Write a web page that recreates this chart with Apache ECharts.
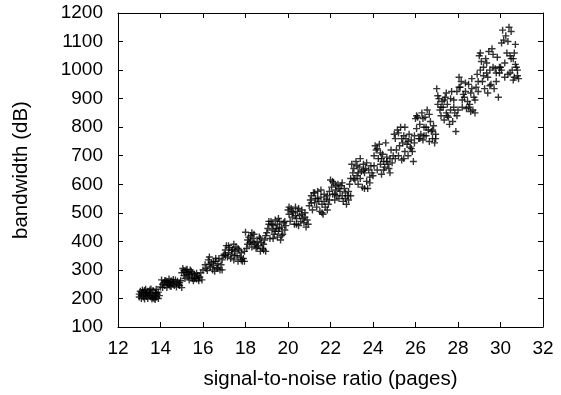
<!DOCTYPE html>
<html><head><meta charset="utf-8">
<script src="https://cdn.jsdelivr.net/npm/echarts@6/dist/echarts.min.js"></script>
<style>html,body{margin:0;padding:0;background:#fff}#c{width:561px;height:395px}</style>
</head><body><div id="c"></div>
<script>
const xTicks = [12,14,16,18,20,22,24,26,28,30,32];
const yTicks = [100,200,300,400,500,600,700,800,900,1000,1100,1200];
const xTitle = 'signal-to-noise ratio (pages)';
const yTitle = 'bandwidth (dB)';
const snr = [
13.0,13.0,13.05,13.1,13.1,13.15,13.2,13.2,13.25,13.3,13.3,13.35,13.4,13.4,13.45,13.5,13.5,13.55,13.6,13.6,13.65,13.7,13.7,13.75,13.8,13.8,13.85,13.9,13.9,
14.0,14.05,14.1,14.15,14.2,14.25,14.3,14.3,14.35,14.4,14.45,14.5,14.5,14.55,14.6,14.65,14.7,14.75,14.8,14.85,14.9,15.0,14.95,
15.0,15.05,15.1,15.1,15.15,15.2,15.25,15.3,15.3,15.35,15.4,15.45,15.5,15.5,15.55,15.6,15.65,15.7,15.75,15.8,15.8,15.9,
16.0,16.1,16.2,16.25,16.3,16.35,16.4,16.45,16.5,16.55,16.6,16.65,16.7,16.75,16.8,16.85,16.9,16.95,
17.0,17.05,17.1,17.15,17.2,17.25,17.3,17.35,17.4,17.45,17.5,17.55,17.6,17.65,17.7,17.75,17.8,17.85,17.9,17.95,
18.0,18.05,18.1,18.15,18.2,18.25,18.3,18.35,18.4,18.45,18.5,18.55,18.6,18.65,18.7,18.75,18.8,18.85,18.9,18.95,
19.0,19.05,19.1,19.15,19.2,19.25,19.3,19.35,19.4,19.45,19.5,19.5,19.55,19.6,19.65,19.7,19.75,19.8,19.85,19.9,
20.0,20.05,20.1,20.15,20.2,20.25,20.3,20.35,20.4,20.45,20.5,20.55,20.6,20.65,20.7,20.75,20.8,20.85,20.9,
21.0,21.05,21.1,21.15,21.2,21.25,21.3,21.35,21.4,21.45,21.5,21.55,21.6,21.65,21.7,21.75,21.8,21.85,21.9,21.95,
22.0,22.05,22.1,22.15,22.2,22.25,22.3,22.35,22.4,22.45,22.5,22.55,22.6,22.65,22.7,22.75,22.8,22.85,22.9,22.95,
23.0,23.05,23.1,23.15,23.2,23.25,23.3,23.35,23.4,23.45,23.5,23.55,23.6,23.65,23.7,23.75,23.8,23.85,23.9,23.95,
24.0,24.05,24.1,24.15,24.2,24.25,24.3,24.35,24.4,24.45,24.5,24.55,24.6,24.65,24.7,24.75,24.8,24.85,24.9,
25.0,25.05,25.1,25.15,25.2,25.25,25.3,25.35,25.4,25.45,25.5,25.55,25.6,25.65,25.7,25.75,25.8,25.85,25.9,25.95,
26.0,26.05,26.1,26.15,26.2,26.25,26.3,26.35,26.4,26.45,26.5,26.55,26.6,26.65,26.7,26.75,26.8,26.85,26.9,26.95,
27.0,27.05,27.1,27.15,27.2,27.25,27.3,27.35,27.4,27.45,27.5,27.55,27.6,27.65,27.7,27.75,27.8,27.85,27.9,27.95,
28.0,28.05,28.1,28.15,28.2,28.25,28.3,28.35,28.4,28.45,28.5,28.55,28.6,28.65,28.7,28.75,28.8,28.85,28.9,28.95,
29.0,29.05,29.1,29.15,29.2,29.25,29.3,29.35,29.4,29.45,29.5,29.55,29.6,29.65,29.7,29.75,29.8,29.85,29.9,29.95,
30.0,30.05,30.1,30.15,30.2,30.25,30.3,30.35,30.4,30.45,30.5,30.55,30.6,30.65,30.7,30.75,30.8,30.85,30.6
];
const bandwidth = [
205,215,225,200,210,230,220,205,198,215,232,208,225,200,212,220,230,205,198,215,228,210,200,220,232,205,215,200,222,
240,265,250,255,245,262,238,258,248,268,255,242,262,250,258,245,265,252,260,248,255,238,262,
290,305,280,298,270,300,285,292,275,265,300,282,270,290,262,285,275,268,280,272,262,290,
300,318,298,335,345,310,325,300,315,295,330,308,322,340,300,318,335,350,
355,370,385,345,360,378,340,355,372,335,365,380,350,330,370,345,360,330,340,365,
432,375,405,415,395,420,380,410,425,390,375,400,385,415,365,395,375,370,405,420,
430,445,460,410,470,440,455,425,475,445,460,415,435,470,405,450,425,465,440,455,
510,495,470,515,485,500,460,520,480,505,455,490,470,510,480,465,500,450,475,
525,545,560,510,570,535,550,520,575,540,505,555,530,495,565,520,548,510,530,575,
615,590,565,605,545,580,560,600,550,575,595,560,540,585,570,530,560,545,600,620,
670,640,655,615,680,630,600,660,620,645,590,670,640,655,610,585,650,625,665,640,
630,700,735,720,650,690,740,670,635,705,680,660,745,695,670,655,690,720,675,
775,760,720,790,700,735,800,685,745,770,715,760,740,700,775,730,755,715,680,745,
830,795,835,760,810,775,850,755,800,835,770,860,790,750,820,785,760,805,745,775,
935,880,900,860,840,890,870,825,905,850,880,835,810,860,925,820,895,850,785,925,
860,975,940,960,870,915,905,955,865,890,950,880,920,970,860,905,850,940,985,925,
1050,1000,1030,960,1010,935,1040,990,920,1065,1000,950,1075,1010,935,1005,960,1045,905,990,
1010,1095,1140,1105,975,1120,1060,985,1150,1050,1135,1000,1040,975,1090,1010,1000,970,965
];
const snrExtra = [
13.1,13.2,13.35,13.5,13.65,13.8,13.95,13.25,13.55,13.75,
14.1,14.2,14.35,14.45,14.6,14.75,14.9,14.4,
15.15,15.25,15.35,15.45,15.6,15.7,15.85,15.95,
16.15,16.3,16.5,16.7,16.9,16.6,
17.05,17.2,17.35,17.5,17.65,17.8,17.45,17.95,
18.1,18.25,18.4,18.55,18.7,18.85,18.95,18.3,
19.1,19.25,19.4,19.55,19.7,19.85,19.3,19.6,
20.05,20.2,20.35,20.5,20.65,20.8,20.95,20.4,
21.1,21.25,21.4,21.55,21.7,21.85,21.6,21.95,
22.1,22.25,22.4,22.55,22.7,22.85,22.95,22.2,
23.1,23.25,23.4,23.55,23.7,23.85,23.3,23.6,
24.05,24.2,24.35,24.5,24.65,24.8,24.95,24.4,
25.05,25.2,25.35,25.5,25.65,25.8,25.95,25.45,
26.05,26.2,26.35,26.5,26.65,26.8,26.95,26.4,
27.05,27.2,27.35,27.5,27.65,27.8,27.95,27.45,
28.05,28.2,28.35,28.5,28.65,28.8,28.95,28.6,
29.05,29.2,29.35,29.5,29.65,29.8,29.95,29.4,
30.05,30.2,30.35,30.5,30.65,30.8,30.45,30.7
];
const bandwidthExtra = [
220,212,218,210,203,218,210,228,233,196,
238,262,258,244,266,240,245,250,
292,302,285,295,270,288,275,265,
305,320,330,305,300,340,
350,385,368,350,375,335,390,330,
390,400,395,380,410,390,365,430,
470,460,435,480,420,470,410,445,
520,505,490,515,495,485,460,460,
535,570,550,580,540,560,500,545,
610,595,585,605,550,575,560,565,
620,665,690,650,675,605,640,585,
665,725,710,650,680,640,700,690,
690,780,760,800,750,725,770,690,
840,760,830,800,845,790,760,770,
910,870,895,840,900,870,840,920,
940,895,925,870,935,895,960,855,
1060,980,1025,945,1055,990,1010,975,
1000,1025,1100,1040,1060,980,990,1020
];
const pts = snr.map((x, i) => [x, bandwidth[i]])
  .concat(snrExtra.map((x, i) => [x, bandwidthExtra[i]]));
const font = 'Liberation Sans, Arial, sans-serif';
const chart = echarts.init(document.getElementById('c'), null, {renderer: 'canvas'});
const axisCommon = {
  axisLine: {show: true, lineStyle: {color: '#000', width: 1}},
  axisTick: {show: true, inside: true, length: 5, lineStyle: {color: '#000'}},
  splitLine: {show: false}
};
chart.setOption({
  animation: false,
  grid: {left: 118, right: 18, top: 13, bottom: 67},
  xAxis: [
    Object.assign({type: 'value', min: 12, max: 32, interval: 2, position: 'bottom',
      name: xTitle, nameLocation: 'middle', nameGap: 42,
      nameTextStyle: {fontFamily: font, fontSize: 20.5, color: '#000'},
      axisLabel: {fontFamily: font, fontSize: 19, color: '#000', margin: 12, formatter: v => String(v)}}, axisCommon),
    Object.assign({type: 'value', min: 12, max: 32, interval: 2, position: 'top',
      axisLabel: {show: false}}, axisCommon)
  ],
  yAxis: [
    Object.assign({type: 'value', min: 100, max: 1200, interval: 100, position: 'left',
      name: yTitle, nameLocation: 'middle', nameGap: 86,
      nameTextStyle: {fontFamily: font, fontSize: 20.5, color: '#000'},
      axisLabel: {fontFamily: font, fontSize: 19, color: '#000', margin: 15, formatter: v => String(v)}}, axisCommon),
    Object.assign({type: 'value', min: 100, max: 1200, interval: 100, position: 'right',
      axisLabel: {show: false}}, axisCommon)
  ],
  series: [{
    type: 'scatter',
    data: pts,
    symbol: 'path://M0,4H10V6H0Z M4,0H6V10H4Z',
    symbolSize: 7,
    itemStyle: {color: '#000'},
    silent: true
  }]
});
</script></body></html>
